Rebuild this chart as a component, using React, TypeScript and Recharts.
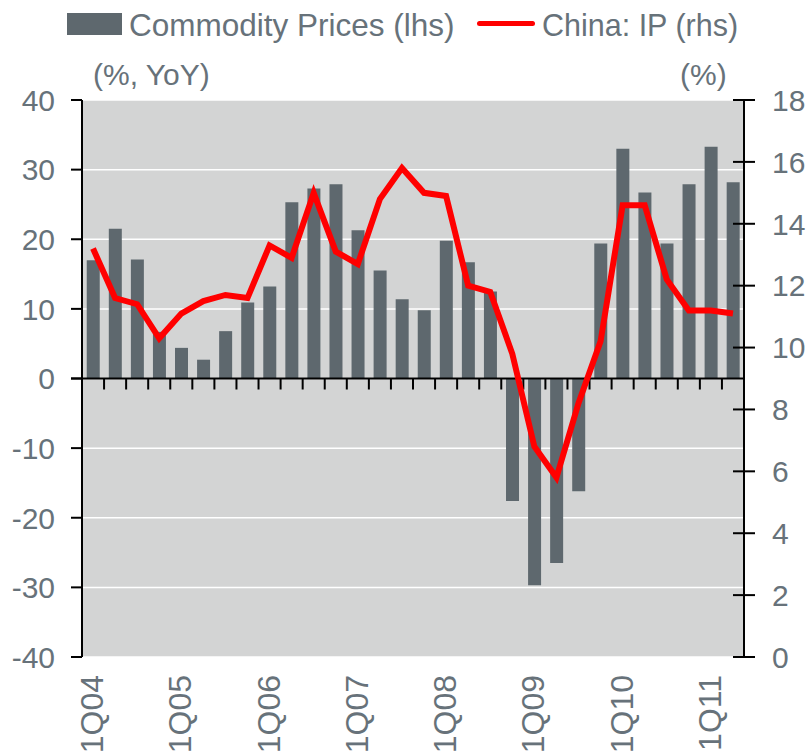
import React from "react";
import {
  ComposedChart,
  Bar,
  Line,
  XAxis,
  YAxis,
  CartesianGrid,
  ReferenceLine,
  Legend,
} from "recharts";

const FONT = '"Liberation Sans", Arial, sans-serif';
const TEXT = "#67727a";
const BAR = "#5e686e";
const RED = "#ff0000";

// quarters 1Q04 .. 2Q11
const quarters = [
  "1Q04", "2Q04", "3Q04", "4Q04",
  "1Q05", "2Q05", "3Q05", "4Q05",
  "1Q06", "2Q06", "3Q06", "4Q06",
  "1Q07", "2Q07", "3Q07", "4Q07",
  "1Q08", "2Q08", "3Q08", "4Q08",
  "1Q09", "2Q09", "3Q09", "4Q09",
  "1Q10", "2Q10", "3Q10", "4Q10",
  "1Q11", "2Q11",
];

// Commodity prices, % YoY (lhs)
const commodity = [
  17.0, 21.5, 17.1, 6.7, 4.4, 2.7, 6.8, 10.9, 13.2, 25.3,
  27.3, 27.9, 21.3, 15.5, 11.4, 9.8, 19.8, 16.7, 12.5, -17.6,
  -29.7, -26.5, -16.2, 19.4, 33.0, 26.7, 19.4, 27.9, 33.3, 28.2,
];

// China industrial production, % (rhs)
const chinaIP = [
  13.2, 11.6, 11.4, 10.3, 11.1, 11.5, 11.7, 11.6, 13.3, 12.9,
  15.0, 13.1, 12.7, 14.8, 15.8, 15.0, 14.9, 12.0, 11.8, 9.8,
  6.8, 5.8, 8.2, 10.2, 14.6, 14.6, 12.2, 11.2, 11.2, 11.1,
];

const leftTicks = [-40, -30, -20, -10, 0, 10, 20, 30, 40];
const rightTicks = [0, 2, 4, 6, 8, 10, 12, 14, 16, 18];

const data = quarters.map((q, i) => ({
  q,
  commodity: commodity[i],
  ip: chinaIP[i],
}));

const XTick = (props: any) => {
  const { x, y, payload } = props;
  const bx = x + 10;
  return (
    <text
      x={bx}
      y={y}
      transform={`rotate(-90 ${bx} ${y})`}
      textAnchor="end"
      fill={TEXT}
      fontSize={32}
      fontFamily={FONT}
    >
      {payload.value}
    </text>
  );
};

const LeftTick = (props: any) => {
  const { x, y, payload } = props;
  return (
    <text x={x} y={y} dy="0.36em" textAnchor="end" fill={TEXT} fontSize={30} fontFamily={FONT}>
      {payload.value}
    </text>
  );
};

// right axis ticks cross the axis line
const RightTick = (props: any) => {
  const { x, y, payload } = props;
  const ax = x - 28;
  return (
    <g>
      <line x1={ax - 11} x2={ax + 11} y1={y} y2={y} stroke="#000" strokeWidth={2} />
      <text x={x} y={y} dy="0.36em" textAnchor="start" fill={TEXT} fontSize={30} fontFamily={FONT}>
        {payload.value}
      </text>
    </g>
  );
};

// zero line with a small tick at every quarter boundary
const ZeroLine = (props: any) => {
  const { x1, y1, x2 } = props;
  const n = quarters.length;
  const step = (x2 - x1) / n;
  return (
    <g>
      {quarters.slice(1).map((q, i) => {
        const tx = x1 + step * (i + 1);
        return <line key={q} x1={tx} x2={tx} y1={y1} y2={y1 + 11} stroke="#000" strokeWidth={2} />;
      })}
      <line x1={x1 - 11} x2={x2} y1={y1} y2={y1} stroke="#000" strokeWidth={2} />
    </g>
  );
};

const renderLegend = (props: any) => {
  const items = props.payload || [];
  const bar = items.find((p: any) => p.dataKey === "commodity");
  const line = items.find((p: any) => p.dataKey === "ip");
  const txt: React.CSSProperties = {
    position: "absolute",
    fontFamily: FONT,
    fontSize: 30.5,
    lineHeight: "30px",
    color: TEXT,
    whiteSpace: "nowrap",
  };
  return (
    <div style={{ position: "relative", width: 809, height: 100 }}>
      <div style={{ position: "absolute", left: 67, top: 13, width: 55, height: 22, background: BAR }} />
      <div style={{ ...txt, left: 129, top: 10, fontSize: 31.5 }}>{bar ? bar.value : ""}</div>
      <div
        style={{
          position: "absolute",
          left: 477,
          top: 20.5,
          width: 58,
          height: 5,
          borderRadius: 3,
          background: RED,
        }}
      />
      <div style={{ ...txt, left: 542, top: 10 }}>{line ? line.value : ""}</div>
      <div style={{ ...txt, left: 93, top: 60, fontSize: 30 }}>(%, YoY)</div>
      <div style={{ ...txt, left: 680, top: 60, fontSize: 30 }}>(%)</div>
    </div>
  );
};

export default function App() {
  return (
    <div style={{ position: "absolute", left: 0, top: 0 }}>
      <ComposedChart
        width={809}
        height={752}
        data={data}
        margin={{ top: 100, right: 0, bottom: 0, left: 0 }}
        barCategoryGap="21.5%"
      >
        <CartesianGrid
          yAxisId="left"
          vertical={false}
          fill="#d3d4d4"
          stroke="#ffffff"
          strokeWidth={1.5}
        />
        <XAxis
          dataKey="q"
          interval={3}
          height={95}
          axisLine={false}
          tickLine={false}
          tickSize={0}
          tickMargin={18}
          tick={<XTick />}
        />
        <YAxis
          yAxisId="left"
          orientation="left"
          width={82}
          domain={[-40, 40]}
          ticks={leftTicks}
          interval={0}
          axisLine={{ stroke: "#000", strokeWidth: 2 }}
          tickLine={{ stroke: "#000", strokeWidth: 2 }}
          tickSize={11}
          tickMargin={16}
          tick={<LeftTick />}
        />
        <YAxis
          yAxisId="right"
          orientation="right"
          width={65}
          domain={[0, 18]}
          ticks={rightTicks}
          interval={0}
          axisLine={{ stroke: "#000", strokeWidth: 2 }}
          tickLine={false}
          tickSize={11}
          tickMargin={17}
          tick={<RightTick />}
        />
        <Legend
          layout="horizontal"
          verticalAlign="middle"
          align="center"
          wrapperStyle={{ top: 0, left: 0, width: 809, height: 100 }}
          content={renderLegend}
        />
        <Bar
          yAxisId="left"
          dataKey="commodity"
          name="Commodity Prices (lhs)"
          fill={BAR}
          isAnimationActive={false}
        />
        <ReferenceLine yAxisId="left" y={0} stroke="#000" shape={<ZeroLine />} />
        <Line
          yAxisId="right"
          dataKey="ip"
          name="China: IP (rhs)"
          type="linear"
          stroke={RED}
          strokeWidth={6}
          dot={false}
          isAnimationActive={false}
        />
      </ComposedChart>
    </div>
  );
}
